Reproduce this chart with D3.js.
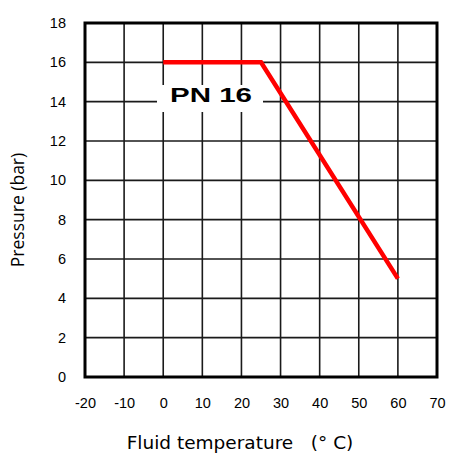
<!DOCTYPE html>
<html><head><meta charset="utf-8">
<script src="https://cdn.jsdelivr.net/npm/d3@7"></script>
<style>body{margin:0;background:#fff}svg{display:block}</style>
</head><body>
<svg id="c" width="449" height="453"></svg>
<script>
const xTicks = [-20,-10,0,10,20,30,40,50,60,70];
const yTicks = [0,2,4,6,8,10,12,14,16,18];
const temps = [0, 25, 60];
const pressures = [16, 16, 5];
const seriesLabel = "PN 16";
const xTitle = "Fluid temperature   (\u00B0 C)";
const yTitle = "Pressure (bar)";

const svg = d3.select("#c");
const L=85, R=437, T=23, B=377;
const x = d3.scaleLinear().domain([-20,70]).range([L,R]);
const y = d3.scaleLinear().domain([0,18]).range([B,T]);

// grid
svg.append("g").selectAll("line").data(xTicks.slice(1,-1)).join("line")
  .attr("x1",d=>x(d)).attr("x2",d=>x(d)).attr("y1",T).attr("y2",B)
  .attr("stroke","#1a1a1a").attr("stroke-width",1.6);
svg.append("g").selectAll("line").data(yTicks.slice(1,-1)).join("line")
  .attr("y1",d=>y(d)).attr("y2",d=>y(d)).attr("x1",L).attr("x2",R)
  .attr("stroke","#1a1a1a").attr("stroke-width",1.6);

// label box
svg.append("rect").attr("x",157).attr("y",85).attr("width",106).attr("height",27).attr("fill","#fff");

// border
svg.append("rect").attr("x",L).attr("y",T).attr("width",R-L).attr("height",B-T)
  .attr("fill","none").attr("stroke","#000").attr("stroke-width",3);

// axes labels via d3 axes
const xAxis = svg.append("g").attr("transform",`translate(0,${B})`)
  .call(d3.axisBottom(x).tickValues(xTicks).tickFormat(d=>String(d)).tickSize(0).tickPadding(21));
xAxis.select(".domain").remove();
xAxis.selectAll("text").attr("font-family","Liberation Sans, Arial, sans-serif").attr("font-size",14.5).attr("fill","#000");
const yAxis = svg.append("g").attr("transform",`translate(${L},0)`)
  .call(d3.axisLeft(y).tickValues(yTicks).tickFormat(d=>String(d)).tickSize(0).tickPadding(19));
yAxis.select(".domain").remove();
yAxis.selectAll("text").attr("font-family","Liberation Sans, Arial, sans-serif").attr("font-size",14.5).attr("fill","#000");

// line
const pts = temps.map((t,i)=>[t,pressures[i]]);
svg.append("path").datum(pts)
  .attr("d",d3.line().x(d=>x(d[0])).y(d=>y(d[1])))
  .attr("fill","none").attr("stroke","#ff0000").attr("stroke-width",4.5)
  .attr("stroke-linejoin","miter");

// series label
svg.append("text").attr("x",170).attr("y",102).text(seriesLabel)
  .attr("font-family","Liberation Sans, Arial, sans-serif").attr("font-weight","bold")
  .attr("font-size",21).attr("textLength",82).attr("lengthAdjust","spacingAndGlyphs");

// titles
svg.append("text").attr("x",240).attr("y",449).attr("text-anchor","middle")
  .attr("font-family","DejaVu Sans, Verdana, sans-serif").attr("font-size",18.5)
  .attr("xml:space","preserve").style("white-space","pre").text(xTitle);
svg.append("text").attr("transform",`translate(24,210) rotate(-90)`).attr("text-anchor","middle")
  .attr("font-family","Open Sans, sans-serif").attr("font-size",17.5).text(yTitle);
</script>
</body></html>
